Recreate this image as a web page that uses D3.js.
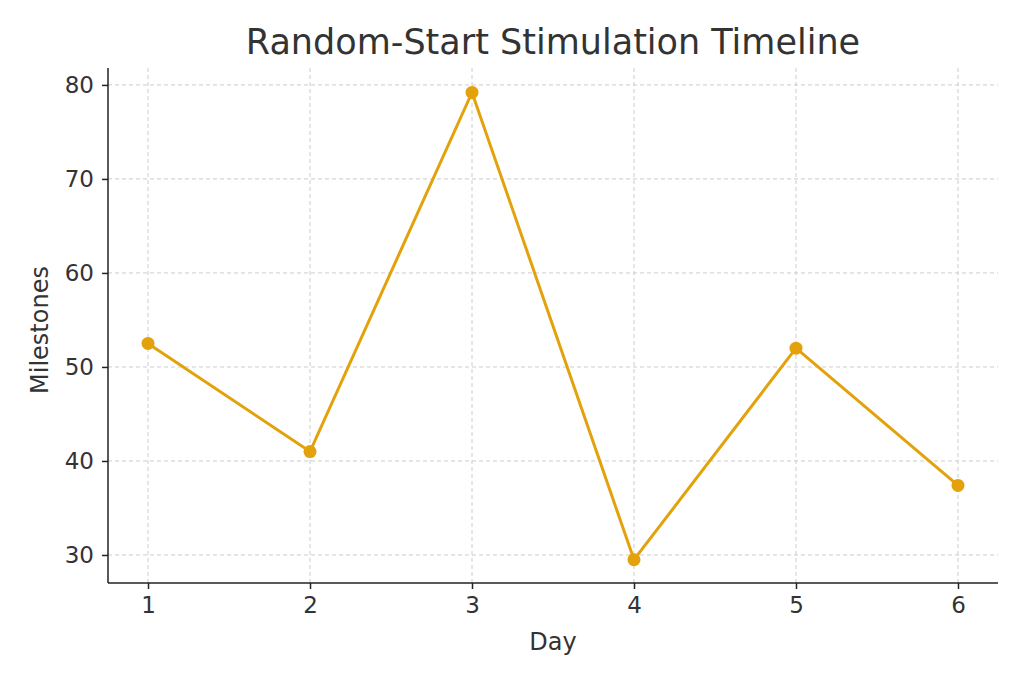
<!DOCTYPE html>
<html><head><meta charset="utf-8">
<script src="https://cdn.jsdelivr.net/npm/d3@7"></script>
<style>body{margin:0;background:#fff}text{font-family:"DejaVu Sans",sans-serif;fill:#333}</style>
</head><body><svg id="c" width="1024" height="683"></svg>
<script>
const days=[1,2,3,4,5,6];
const milestones=[52.5,41.0,79.2,29.5,52.0,37.4];
const yTicks=[30,40,50,60,70,80];
const svg=d3.select("#c");
const L=108,R=998,T=68,B=583;
const x=d3.scaleLinear().domain([0.753,6.247]).range([L,R]);
const y=d3.scaleLinear().domain([27.02,81.8]).range([B,T]);
const g=svg.append("g");
days.forEach(d=>g.append("line").attr("x1",x(d)).attr("x2",x(d)).attr("y1",T).attr("y2",B).attr("stroke","#ccc").attr("stroke-dasharray","4,3"));
yTicks.forEach(v=>g.append("line").attr("x1",L).attr("x2",R).attr("y1",y(v)).attr("y2",y(v)).attr("stroke","#ccc").attr("stroke-dasharray","4,3"));
const xa=svg.append("g").attr("transform",`translate(0,${B})`).call(d3.axisBottom(x).tickValues(days).tickFormat(d3.format("d")).tickSize(6).tickPadding(8));
const ya=svg.append("g").attr("transform",`translate(${L},0)`).call(d3.axisLeft(y).tickValues(yTicks).tickFormat(d3.format("d")).tickSize(6).tickPadding(8));
[xa,ya].forEach(a=>{a.attr("font-size",null).attr("font-family",null);a.selectAll("text").style("font-size","23px").attr("fill","#333");a.selectAll("line,path").attr("stroke","#222").attr("stroke-width",1.5);a.select(".domain").attr("d",null);});
svg.append("line").attr("x1",L).attr("x2",R).attr("y1",B).attr("y2",B).attr("stroke","#222").attr("stroke-width",1.5);
svg.append("line").attr("x1",L).attr("x2",L).attr("y1",T).attr("y2",B).attr("stroke","#222").attr("stroke-width",1.5);
const line=d3.line().x((d,i)=>x(days[i])).y(d=>y(d));
svg.append("path").datum(milestones).attr("d",line).attr("fill","none").attr("stroke","#E3A20B").attr("stroke-width",3);
svg.selectAll("circle").data(milestones).join("circle").attr("cx",(d,i)=>x(days[i])).attr("cy",d=>y(d)).attr("r",6.5).attr("fill","#E3A20B");
svg.append("text").attr("x",553).attr("y",54).attr("text-anchor","middle").style("font-size","35px").text("Random-Start Stimulation Timeline");
svg.append("text").attr("x",553).attr("y",650).attr("text-anchor","middle").style("font-size","24px").text("Day");
svg.append("text").attr("transform","translate(48,330) rotate(-90)").attr("text-anchor","middle").style("font-size","24px").text("Milestones");
</script></body></html>
